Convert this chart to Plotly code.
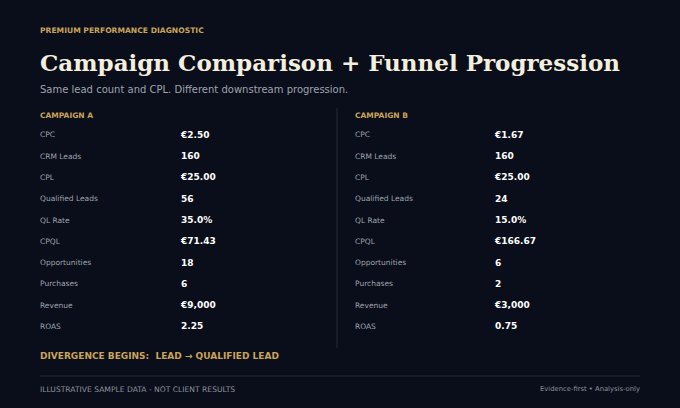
import plotly.graph_objects as go

# data
metrics = ["CPC", "CRM Leads", "CPL", "Qualified Leads", "QL Rate", "CPQL",
           "Opportunities", "Purchases", "Revenue", "ROAS"]
campaign_a = ["€2.50", "160", "€25.00", "56", "35.0%", "€71.43", "18", "6", "€9,000", "2.25"]
campaign_b = ["€1.67", "160", "€25.00", "24", "15.0%", "€166.67", "6", "2", "€3,000", "0.75"]
campaigns = ["CAMPAIGN A", "CAMPAIGN B"]

BG = "#0a0e1a"
GOLD = "#c9a45a"
CREAM = "#f4eedf"
GREY = "#9ea3ad"
FOOT = "#8e929b"
SANS = "DejaVu Sans"

row_y = [135.5 + i * 21.3 for i in range(len(metrics))]
cols = [(40, 181, campaign_a), (355, 495, campaign_b)]

fig = go.Figure()
for lx, vx, vals in cols:
    fig.add_trace(go.Scatter(
        x=[lx] * len(metrics), y=row_y, mode="text", text=metrics,
        textposition="middle right", textfont=dict(family=SANS, size=7.5, color=GREY),
        hoverinfo="skip", showlegend=False))
    fig.add_trace(go.Scatter(
        x=[vx] * len(vals), y=row_y, mode="text", text=["<b>%s</b>" % v for v in vals],
        textposition="middle right", textfont=dict(family=SANS, size=9, color="#ffffff"),
        hoverinfo="skip", showlegend=False))

def note(x, y, text, size, color, family=SANS, anchor="left"):
    fig.add_annotation(x=x, y=y, xref="x", yref="y", text=text, showarrow=False,
                       xanchor=anchor, yanchor="middle", xshift=-2 if anchor == "left" else 2,
                       font=dict(family=family, size=size, color=color))

note(40, 30, "<b>PREMIUM PERFORMANCE DIAGNOSTIC</b>", 7.6, GOLD)
note(40, 62, "<b>Campaign Comparison + Funnel Progression</b>", 23, CREAM, family="DejaVu Serif")
note(40, 89, "Same lead count and CPL. Different downstream progression.", 10, GREY)
note(40, 115, "<b>%s</b>" % campaigns[0], 7.5, GOLD)
note(355, 115, "<b>%s</b>" % campaigns[1], 7.5, GOLD)
note(40, 356, "<b>DIVERGENCE BEGINS:  LEAD → QUALIFIED LEAD</b>", 9, GOLD)
note(40, 389, "ILLUSTRATIVE SAMPLE DATA - NOT CLIENT RESULTS", 7.6, FOOT)
note(640, 389, "Evidence-first • Analysis-only", 6.8, FOOT, anchor="right")

fig.add_shape(type="line", x0=337, x1=337, y0=108, y1=348, xref="x", yref="y",
              line=dict(color="#262b38", width=1))
fig.add_shape(type="line", x0=40, x1=640, y0=376, y1=376, xref="x", yref="y",
              line=dict(color="#262b38", width=1))

fig.update_layout(
    width=680, height=408, margin=dict(l=0, r=0, t=0, b=0),
    paper_bgcolor=BG, plot_bgcolor=BG,
    xaxis=dict(range=[0, 680], visible=False, fixedrange=True),
    yaxis=dict(range=[408, 0], visible=False, fixedrange=True),
)

fig.write_html("out.html", config={"displayModeBar": False},
               post_script="document.body.style.margin='0';document.body.style.background='%s';" % BG)
